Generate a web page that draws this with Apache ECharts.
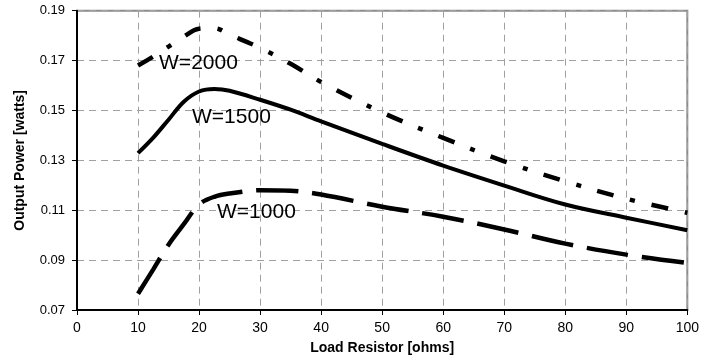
<!DOCTYPE html>
<html>
<head>
<meta charset="utf-8">
<script src="https://cdn.jsdelivr.net/npm/echarts@6/dist/echarts.min.js"></script>
<style>
  html, body { margin: 0; padding: 0; background: #fff; }
  #chart { width: 702px; height: 362px; }
</style>
</head>
<body>
<div id="chart"></div>
<script>
// load resistor values [ohms]
const resistance = [10, 12.5, 15, 17.5, 20, 22.5, 25, 30, 35, 40, 50, 60, 70, 80, 90, 100];

// output power [watts]
const powerW2000 = [0.168, 0.1716, 0.1756, 0.1796, 0.1828, 0.1830, 0.1804, 0.1751, 0.1687, 0.1614, 0.1492, 0.1390, 0.1296, 0.1216, 0.1146, 0.1090];
const powerW1500 = [0.1329, 0.1391, 0.1463, 0.1535, 0.1576, 0.1586, 0.1579, 0.1543, 0.1503, 0.1456, 0.1366, 0.1279, 0.1199, 0.1123, 0.1070, 0.1020];
const powerW1000 = [0.0765, 0.0863, 0.0962, 0.1044, 0.1123, 0.1154, 0.1167, 0.1180, 0.1178, 0.1163, 0.1114, 0.1074, 0.1023, 0.0966, 0.0922, 0.0889];

// curve labels and where they sit (data coords)
const curveLabels = ['W=2000', 'W=1500', 'W=1000'];
const labelAt = [[19.9, 0.1691], [25.3, 0.1471], [29.4, 0.1091]];

const font = '"Liberation Sans", Arial, sans-serif';

const pairs = (ys) => resistance.map((x, i) => [x, ys[i]]);

const chart = echarts.init(document.getElementById('chart'));

const lineSeries = (name, ys, dash, width) => ({
  name,
  type: 'line',
  data: pairs(ys),
  smooth: 0.35,
  showSymbol: false,
  symbol: 'none',
  lineStyle: { color: '#000', width, type: dash, cap: 'butt' },
  z: 3,
});

chart.setOption({
  backgroundColor: '#fff',
  animation: false,
  grid: {
    left: 77,
    right: 13,
    top: 10.7,
    bottom: 52,
    show: true,
    borderColor: '#8c8c8c',
    borderWidth: 2,
    backgroundColor: '#fff',
  },
  xAxis: {
    type: 'value',
    min: 0,
    max: 100,
    interval: 10,
    name: 'Load Resistor [ohms]',
    nameLocation: 'middle',
    nameGap: 31,
    nameTextStyle: { fontFamily: font, fontSize: 14, fontWeight: 'bold', color: '#000' },
    axisLine: { lineStyle: { color: '#000', width: 2 } },
    axisTick: { length: 5, lineStyle: { color: '#000', width: 1 } },
    axisLabel: { fontFamily: font, fontSize: 14, color: '#000', margin: 11 },
    splitLine: { show: true, lineStyle: { color: '#a0a0a0', width: 1, type: [7, 5] } },
  },
  yAxis: {
    type: 'value',
    min: 0.07,
    max: 0.19,
    interval: 0.02,
    name: 'Output Power [watts]',
    nameLocation: 'middle',
    nameGap: 50,
    nameTextStyle: { fontFamily: font, fontSize: 14, fontWeight: 'bold', color: '#000' },
    axisLine: { show: true, lineStyle: { color: '#000', width: 2 } },
    axisTick: { show: true, length: 5, lineStyle: { color: '#000', width: 1 } },
    axisLabel: {
      fontFamily: font,
      fontSize: 13,
      color: '#000',
      margin: 12,
      formatter: (v) => v.toFixed(2),
    },
    splitLine: { show: true, lineStyle: { color: '#a0a0a0', width: 1, type: [7, 5] } },
  },
  series: [
    lineSeries('W=2000', powerW2000, [17, 17, 5, 17], 4.5),
    lineSeries('W=1500', powerW1500, 'solid', 4),
    lineSeries('W=1000', powerW1000, [42, 14], 4.5),
  ],
});

// curve labels, placed through the grid's own scales
chart.setOption({
  graphic: curveLabels.map((text, i) => {
    const [px, py] = chart.convertToPixel({ gridIndex: 0 }, labelAt[i]);
    return {
      type: 'text',
      x: px,
      y: py,
      z: 10,
      style: {
        text,
        fontFamily: font,
        fontSize: 21,
        fill: '#000',
        align: 'center',
        verticalAlign: 'middle',
      },
    };
  }),
});
</script>
</body>
</html>
